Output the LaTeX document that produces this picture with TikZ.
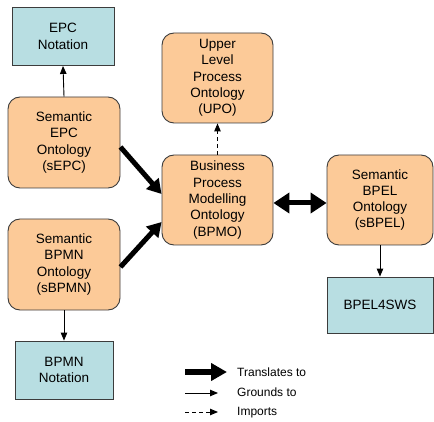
\documentclass[tikz,border=0pt]{standalone}
\usepackage{fontspec}
\setmainfont{Liberation Sans}
\usetikzlibrary{arrows.meta,positioning}
\definecolor{peach}{RGB}{252,202,152}
\definecolor{paleteal}{RGB}{184,222,226}
\definecolor{edgegray}{RGB}{60,60,60}

\begin{document}
\begin{tikzpicture}[x=1pt, y=1pt,
    onto/.style={draw=edgegray, line width=0.9pt, fill=peach, rounded corners=12pt, align=center,
        inner sep=0pt, font=\fontsize{13.5}{16.3}\selectfont},
    notation/.style={draw=edgegray, line width=0.9pt, fill=paleteal, align=center,
        inner sep=0pt, font=\fontsize{13.5}{16.3}\selectfont},
    translates/.style={-{Triangle[length=14pt,width=16pt]}, line width=5pt},
    grounds/.style={-{Triangle[length=8pt,width=6.5pt]}, line width=0.9pt},
    imports/.style={grounds, dash pattern=on 4pt off 3pt},
    legendtext/.style={anchor=west, inner sep=0pt, font=\fontsize{12}{14}\selectfont}]
    \useasboundingbox (0,0) rectangle (434,421);

    % Left column
    \node[notation, minimum width=102pt, minimum height=58pt] (epc) at (63,384.5) {EPC\\Notation};
    \node[onto, minimum width=112pt, minimum height=91pt] (sepc) at (64,278.5) {Semantic\\EPC\\Ontology\\(sEPC)};
    \node[onto, minimum width=112pt, minimum height=91pt] (sbpmn) at (64,156.5) {Semantic\\BPMN\\Ontology\\(sBPMN)};
    \node[notation, minimum width=98pt, minimum height=58pt] (bpmn) at (64,51) {BPMN\\Notation};

    % Middle column
    \node[onto, minimum width=111pt, minimum height=90pt] (upo) at (217.5,343) {Upper\\Level\\Process\\Ontology\\(UPO)};
    \node[onto, minimum width=111pt, minimum height=90pt] (bpmo) at (217.5,221) {Business\\Process\\Modelling\\Ontology\\(BPMO)};

    % Right column
    \node[onto, minimum width=106pt, minimum height=90pt] (sbpel) at (380,221) {Semantic\\BPEL\\Ontology\\(sBPEL)};
    \node[notation, minimum width=106pt, minimum height=56pt] (bpel) at (380,116) {BPEL4SWS};

    % Connectors
    \draw[grounds] (sepc.north) -- (epc.south);
    \draw[grounds] (sbpmn.south) -- (bpmn.north);
    \draw[grounds] (sbpel.south) -- (bpel.north);
    \draw[imports] (bpmo.north) -- (upo.south);
    \draw[translates] (sepc.east |- 0,274) -- (bpmo.west |- 0,227);
    \draw[translates] (sbpmn.east |- 0,154) -- (bpmo.west |- 0,199);
    \draw[{Triangle[length=16pt,width=20pt]}-{Triangle[length=16pt,width=20pt]}, line width=5pt]
        (bpmo.east |- 0,218) -- (sbpel.west |- 0,218);

    % Legend
    \coordinate (l1a) at (185,49);
    \coordinate (l1b) at (227,49);
    \coordinate (l2a) at (185,28);
    \coordinate (l2b) at (218,28);
    \coordinate (l3a) at (185,9);
    \coordinate (l3b) at (218,9);
    \draw[-{Triangle[length=16pt,width=17pt]}, line width=6.5pt] (l1a) -- (l1b);
    \draw[grounds] (l2a) -- (l2b);
    \draw[imports] (l3a) -- (l3b);
    \node[legendtext] (lt1) at (237,49) {Translates to};
    \node[legendtext] (lt2) at (237,29) {Grounds to};
    \node[legendtext] (lt3) at (237,8) {Imports};
\end{tikzpicture}
\end{document}
